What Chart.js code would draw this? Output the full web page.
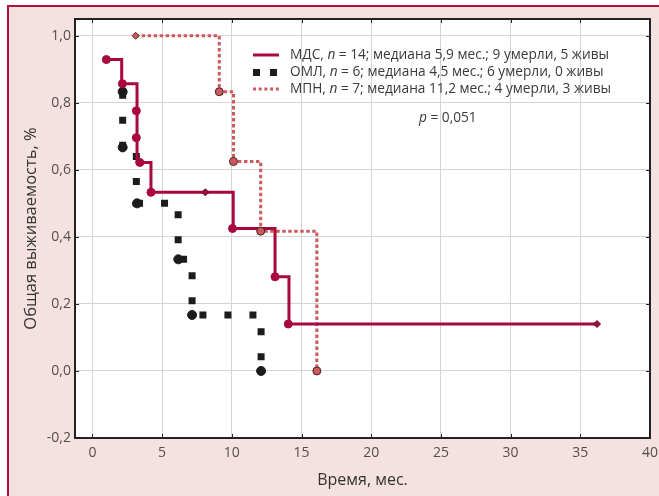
<!DOCTYPE html>
<html>
<head>
<meta charset="utf-8">
<script src="https://cdn.jsdelivr.net/npm/chart.js@4.4.0/dist/chart.umd.min.js"></script>
<style>
  html, body { margin: 0; background: #fff; overflow: hidden; }
  #wrap { position: relative; width: 659px; height: 496px; overflow: hidden; }
  #panel { position: absolute; left: 7px; top: 5px; right: 0; bottom: 0;
           background: #f5e1df; border-left: 2px solid #b0103f; border-top: 2px solid #b0103f; }
  #chart { position: absolute; left: 0; top: 0; }
</style>
</head>
<body>
<div id="wrap">
  <div id="panel"></div>
  <canvas id="chart" width="659" height="496"></canvas>
</div>
<script>
// МДС
const mdsX = [1.0, 2.1, 3.2, 4.2, 10.1, 13.1, 14.1, 36.2];
const mdsY = [0.929, 0.857, 0.622, 0.533, 0.425, 0.281, 0.140, 0.140];
const mdsDotX = [1.0, 2.15, 3.15, 3.15, 3.4, 4.2, 10.05, 13.1, 14.05];
const mdsDotY = [0.929, 0.857, 0.776, 0.696, 0.622, 0.533, 0.425, 0.281, 0.140];
const mdsCensX = [8.1, 36.2];
const mdsCensY = [0.533, 0.140];

// ОМЛ
const omlX = [2.17, 2.17, 3.15, 6.15, 7.15, 12.1];
const omlY = [0.833, 0.667, 0.5, 0.333, 0.167, 0.0];
const omlDotX = [2.17, 2.17, 3.2, 6.16, 7.15, 12.1];
const omlDotY = [0.833, 0.667, 0.5, 0.333, 0.167, 0.0];

// МПН
const mpnX = [3.1, 9.1, 10.12, 12.07, 16.1];
const mpnY = [1.0, 0.833, 0.625, 0.417, 0.0];
const mpnDotX = [9.1, 10.12, 12.07, 16.1];
const mpnDotY = [0.833, 0.625, 0.417, 0.0];
const mpnCensX = [3.1];
const mpnCensY = [1.0];

const legendLabels = [
  ['МДС, ', 'n', ' = 14; медиана 5,9 мес.; 9 умерли, 5 живы'],
  ['ОМЛ, ', 'n', ' = 6; медиана 4,5 мес.; 6 умерли, 0 живы'],
  ['МПН, ', 'n', ' = 7; медиана 11,2 мес.; 4 умерли, 3 живы']
];
const pLabel = ['p', ' = 0,051'];

const RED = '#a8083c';
const PINK = '#cc5a5e';
const BLACK = '#1c1c1c';
const FONT = '"Open Sans", "Noto Sans", sans-serif';

const pts = (xs, ys) => xs.map((x, i) => ({ x: x, y: ys[i] }));

const framePlugin = {
  id: 'frame',
  beforeDraw(chart) {
    const a = chart.chartArea, ctx = chart.ctx;
    ctx.save();
    ctx.fillStyle = '#fff';
    ctx.fillRect(a.left, a.top, a.right - a.left, a.bottom - a.top);
    ctx.restore();
  },
  afterDraw(chart) {
    const a = chart.chartArea, ctx = chart.ctx;
    const xs = chart.scales.x, ys = chart.scales.y;
    ctx.save();
    ctx.strokeStyle = '#222';
    ctx.lineWidth = 1;
    ctx.beginPath();
    xs.ticks.forEach(t => {
      const p = Math.round(xs.getPixelForValue(t.value)) + 0.5;
      ctx.moveTo(p, a.bottom); ctx.lineTo(p, a.bottom - 4);
      ctx.moveTo(p, a.top); ctx.lineTo(p, a.top + 4);
    });
    ys.ticks.forEach(t => {
      const p = Math.round(ys.getPixelForValue(t.value)) + 0.5;
      ctx.moveTo(a.left, p); ctx.lineTo(a.left + 4, p);
      ctx.moveTo(a.right, p); ctx.lineTo(a.right - 4, p);
    });
    ctx.stroke();
    ctx.lineWidth = 2;
    ctx.strokeRect(a.left, a.top, a.right - a.left, a.bottom - a.top);

    // legend
    const x0 = 253, x1 = 279, tx = 290;
    const rows = [55, 72, 89];
    ctx.lineCap = 'butt';
    ctx.strokeStyle = RED; ctx.lineWidth = 3;
    ctx.beginPath(); ctx.moveTo(x0, rows[0]); ctx.lineTo(x1, rows[0]); ctx.stroke();
    ctx.fillStyle = BLACK;
    ctx.fillRect(253, rows[1] - 3, 7, 7);
    ctx.fillRect(270, rows[1] - 3, 7, 7);
    ctx.strokeStyle = PINK; ctx.lineWidth = 3; ctx.setLineDash([3, 2.7]);
    ctx.beginPath(); ctx.moveTo(x0, rows[2]); ctx.lineTo(x1 + 2, rows[2]); ctx.stroke();
    ctx.setLineDash([]);

    ctx.fillStyle = '#3a3a3a';
    ctx.textBaseline = 'middle';
    const drawParts = (parts, x, y, italicIdx) => {
      parts.forEach((s, i) => {
        ctx.font = (i === italicIdx ? 'italic ' : '') + '13.7px ' + FONT;
        ctx.fillText(s, x, y);
        x += ctx.measureText(s).width;
      });
    };
    legendLabels.forEach((parts, i) => drawParts(parts, tx, rows[i], 1));
    drawParts(pLabel, 419, 118, 0);
    ctx.restore();
  }
};

new Chart(document.getElementById('chart'), {
  type: 'scatter',
  data: {
    datasets: [
      { type: 'scatter', data: pts(mpnDotX, mpnDotY), pointStyle: 'circle', pointRadius: 4,
        backgroundColor: PINK, borderColor: '#4a2222', borderWidth: 1, order: 1 },
      { type: 'scatter', data: pts(mpnCensX, mpnCensY), pointStyle: 'rectRot', pointRadius: 3.5,
        backgroundColor: PINK, borderColor: '#4a2222', borderWidth: 1, order: 1 },
      { type: 'scatter', data: pts(mdsDotX, mdsDotY), pointStyle: 'circle', pointRadius: 4,
        backgroundColor: RED, borderColor: RED, borderWidth: 1, order: 2 },
      { type: 'scatter', data: pts(mdsCensX, mdsCensY), pointStyle: 'rectRot', pointRadius: 3.5,
        backgroundColor: RED, borderColor: '#4a1020', borderWidth: 1, order: 2 },
      { type: 'scatter', data: pts(omlDotX, omlDotY), pointStyle: 'circle', pointRadius: 4.5,
        backgroundColor: BLACK, borderColor: BLACK, borderWidth: 1, order: 3 },
      { type: 'line', data: pts(mdsX, mdsY), stepped: 'before', borderColor: RED, borderWidth: 3,
        pointRadius: 0, fill: false, order: 4 },
      { type: 'line', data: pts(mpnX, mpnY), stepped: 'before', borderColor: PINK, borderWidth: 3,
        borderDash: [3.5, 2.5], pointRadius: 0, fill: false, order: 5 },
      { type: 'line', data: pts(omlX, omlY), stepped: 'before', borderColor: BLACK, borderWidth: 7,
        borderDash: [7, 18], borderCapStyle: 'butt', pointRadius: 0, fill: false, order: 6 }
    ]
  },
  options: {
    responsive: false,
    devicePixelRatio: 1,
    animation: false,
    layout: { padding: { left: 10, right: 9, top: 19, bottom: 0 } },
    plugins: { legend: { display: false }, tooltip: { enabled: false } },
    scales: {
      x: {
        type: 'linear', min: -1.25, max: 40,
        afterFit: s => { s.height = 58; s.paddingLeft = 0; s.paddingRight = 0; },
        border: { display: false },
        grid: { color: '#d4d4d4', lineWidth: 1, drawTicks: false },
        ticks: { stepSize: 5, includeBounds: false, padding: 7, color: '#505050',
                 font: { family: FONT, size: 14 } },
        title: { display: true, text: 'Время, мес.', color: '#333',
                 font: { family: FONT, size: 16 }, padding: { top: 0, bottom: 6 } }
      },
      y: {
        type: 'linear', min: -0.2, max: 1.05,
        afterFit: s => { s.width = 65; },
        border: { display: false },
        grid: { color: '#d4d4d4', lineWidth: 1, drawTicks: false },
        ticks: { stepSize: 0.2, includeBounds: false, padding: 4, color: '#505050',
                 font: { family: FONT, size: 14 },
                 callback: v => v.toFixed(1).replace('.', ',') },
        title: { display: true, text: 'Общая выживаемость, %', color: '#333',
                 font: { family: FONT, size: 16.5 }, padding: { top: 11, bottom: 0 } }
      }
    }
  },
  plugins: [framePlugin]
});
</script>
</body>
</html>
